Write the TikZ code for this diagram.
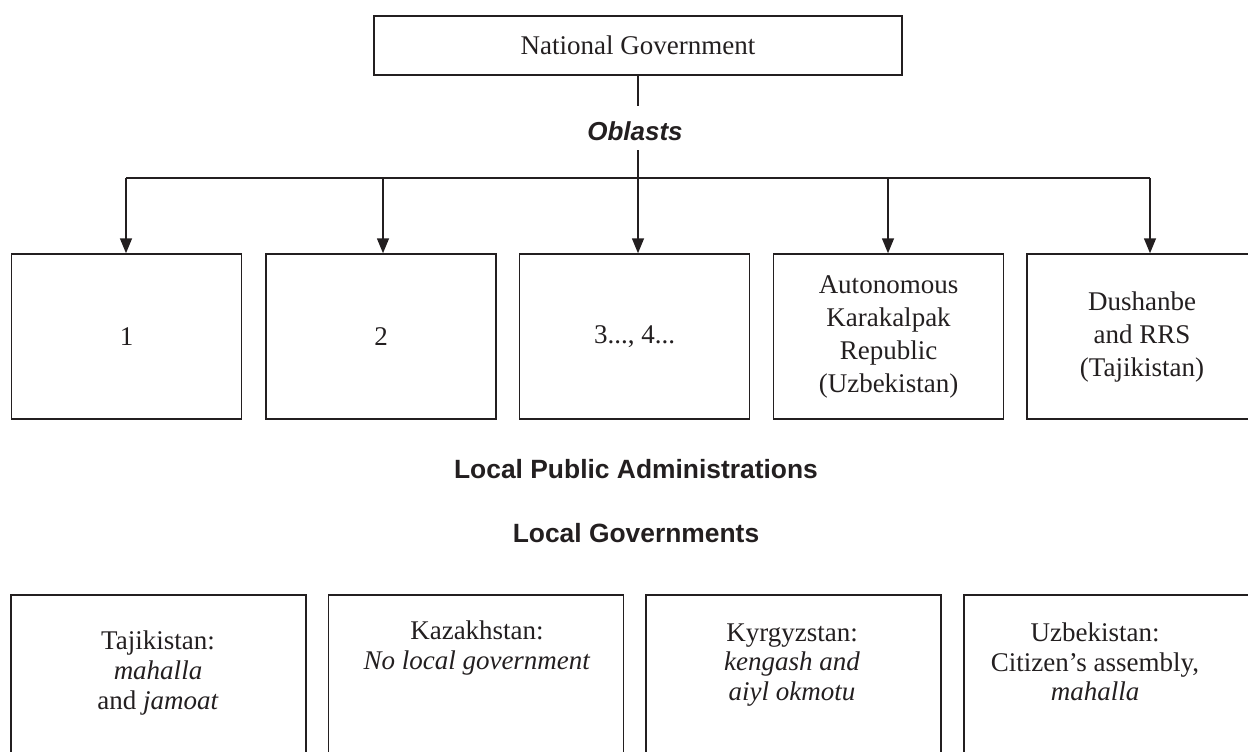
\documentclass[tikz,border=0pt]{standalone}
\usepackage{fontspec}
\setmainfont{Liberation Serif}
\setsansfont{Liberation Sans}
\usetikzlibrary{arrows.meta}
\definecolor{ink}{HTML}{231F20}
\begin{document}
\begin{tikzpicture}[x=0.5pt,y=-0.5pt,
  line width=0.75pt, draw=ink, text=ink,
  ngbox/.style={draw=ink, minimum width=264pt, minimum height=29.5pt, inner sep=0pt, font=\fontsize{13.5}{16.5}\selectfont},
  topbox/.style={draw=ink, minimum width=115pt, minimum height=82.5pt, inner sep=0pt, align=center, font=\fontsize{13.5}{16.5}\selectfont},
  lowbox/.style={draw=ink, minimum width=147.5pt, minimum height=82.5pt, inner sep=0pt},
  lowtext/.style={align=center, inner sep=0pt, font=\fontsize{13.5}{14.8}\selectfont},
  heading/.style={inner sep=0pt, font=\sffamily\bfseries\fontsize{13.2}{15}\selectfont},
  arr/.style={-{Triangle[length=7.5pt,width=6pt]}, draw=ink}
]
\useasboundingbox (0,0) rectangle (1248,751);
\clip (0,0) rectangle (1248,751);

% National government
\node[ngbox] (ng) at (638,45.5) {National Government};
\node[heading, font=\sffamily\bfseries\itshape\fontsize{13}{15}\selectfont] (obl) at (635,131) {Oblasts};

% branch line
\coordinate (oa) at (638,106);
\coordinate (ob) at (638,150);
\coordinate (hc) at (638,178);
\coordinate (h1) at (126,178);
\coordinate (h2) at (383,178);
\coordinate (h4) at (888,178);
\coordinate (h5) at (1150,178);

% oblast boxes
\node[topbox] (b1) at (126.5,336.5) {1};
\node[topbox] (b2) at (381,336.5) {2};
\node[topbox] (b3) at (634.5,336.5) {3..., 4...};
\node[topbox] (b4) at (888.5,336.5) {Autonomous\\Karakalpak\\Republic\\(Uzbekistan)};
\node[topbox] (b5) at (1142,336.5) {Dushanbe\\and RRS\\(Tajikistan)};

\draw (ng.south -| oa) -- (oa);
\draw (ob) -- (hc);
\draw (h1) -- (h5);
\draw[arr] (h1) -- (h1 |- b1.north);
\draw[arr] (h2) -- (h2 |- b2.north);
\draw[arr] (hc) -- (hc |- b3.north);
\draw[arr] (h4) -- (h4 |- b4.north);
\draw[arr] (h5) -- (h5 |- b5.north);

% headings
\node[heading] (lpa) at (636,469) {Local Public Administrations};
\node[heading] (lg) at (636,533.5) {Local Governments};

% local government boxes
\node[lowbox] (c1) at (158.5,677.5) {};
\node[lowbox] (c2) at (476,677.5) {};
\node[lowbox] (c3) at (793.5,677.5) {};
\node[lowbox] (c4) at (1111.5,677.5) {};

\node[lowtext] (t1) at (158,673) {Tajikistan:\\\textit{mahalla}\\and \textit{jamoat}};
\node[lowtext] (t2) at (477,648) {Kazakhstan:\\\textit{No local government}};
\node[lowtext] (t3) at (792,665) {Kyrgyzstan:\\\textit{kengash and}\\\textit{aiyl okmotu}};
\node[lowtext] (t4) at (1095,662) {Uzbekistan:\\Citizen’s assembly,\\\textit{mahalla}};
\end{tikzpicture}
\end{document}
